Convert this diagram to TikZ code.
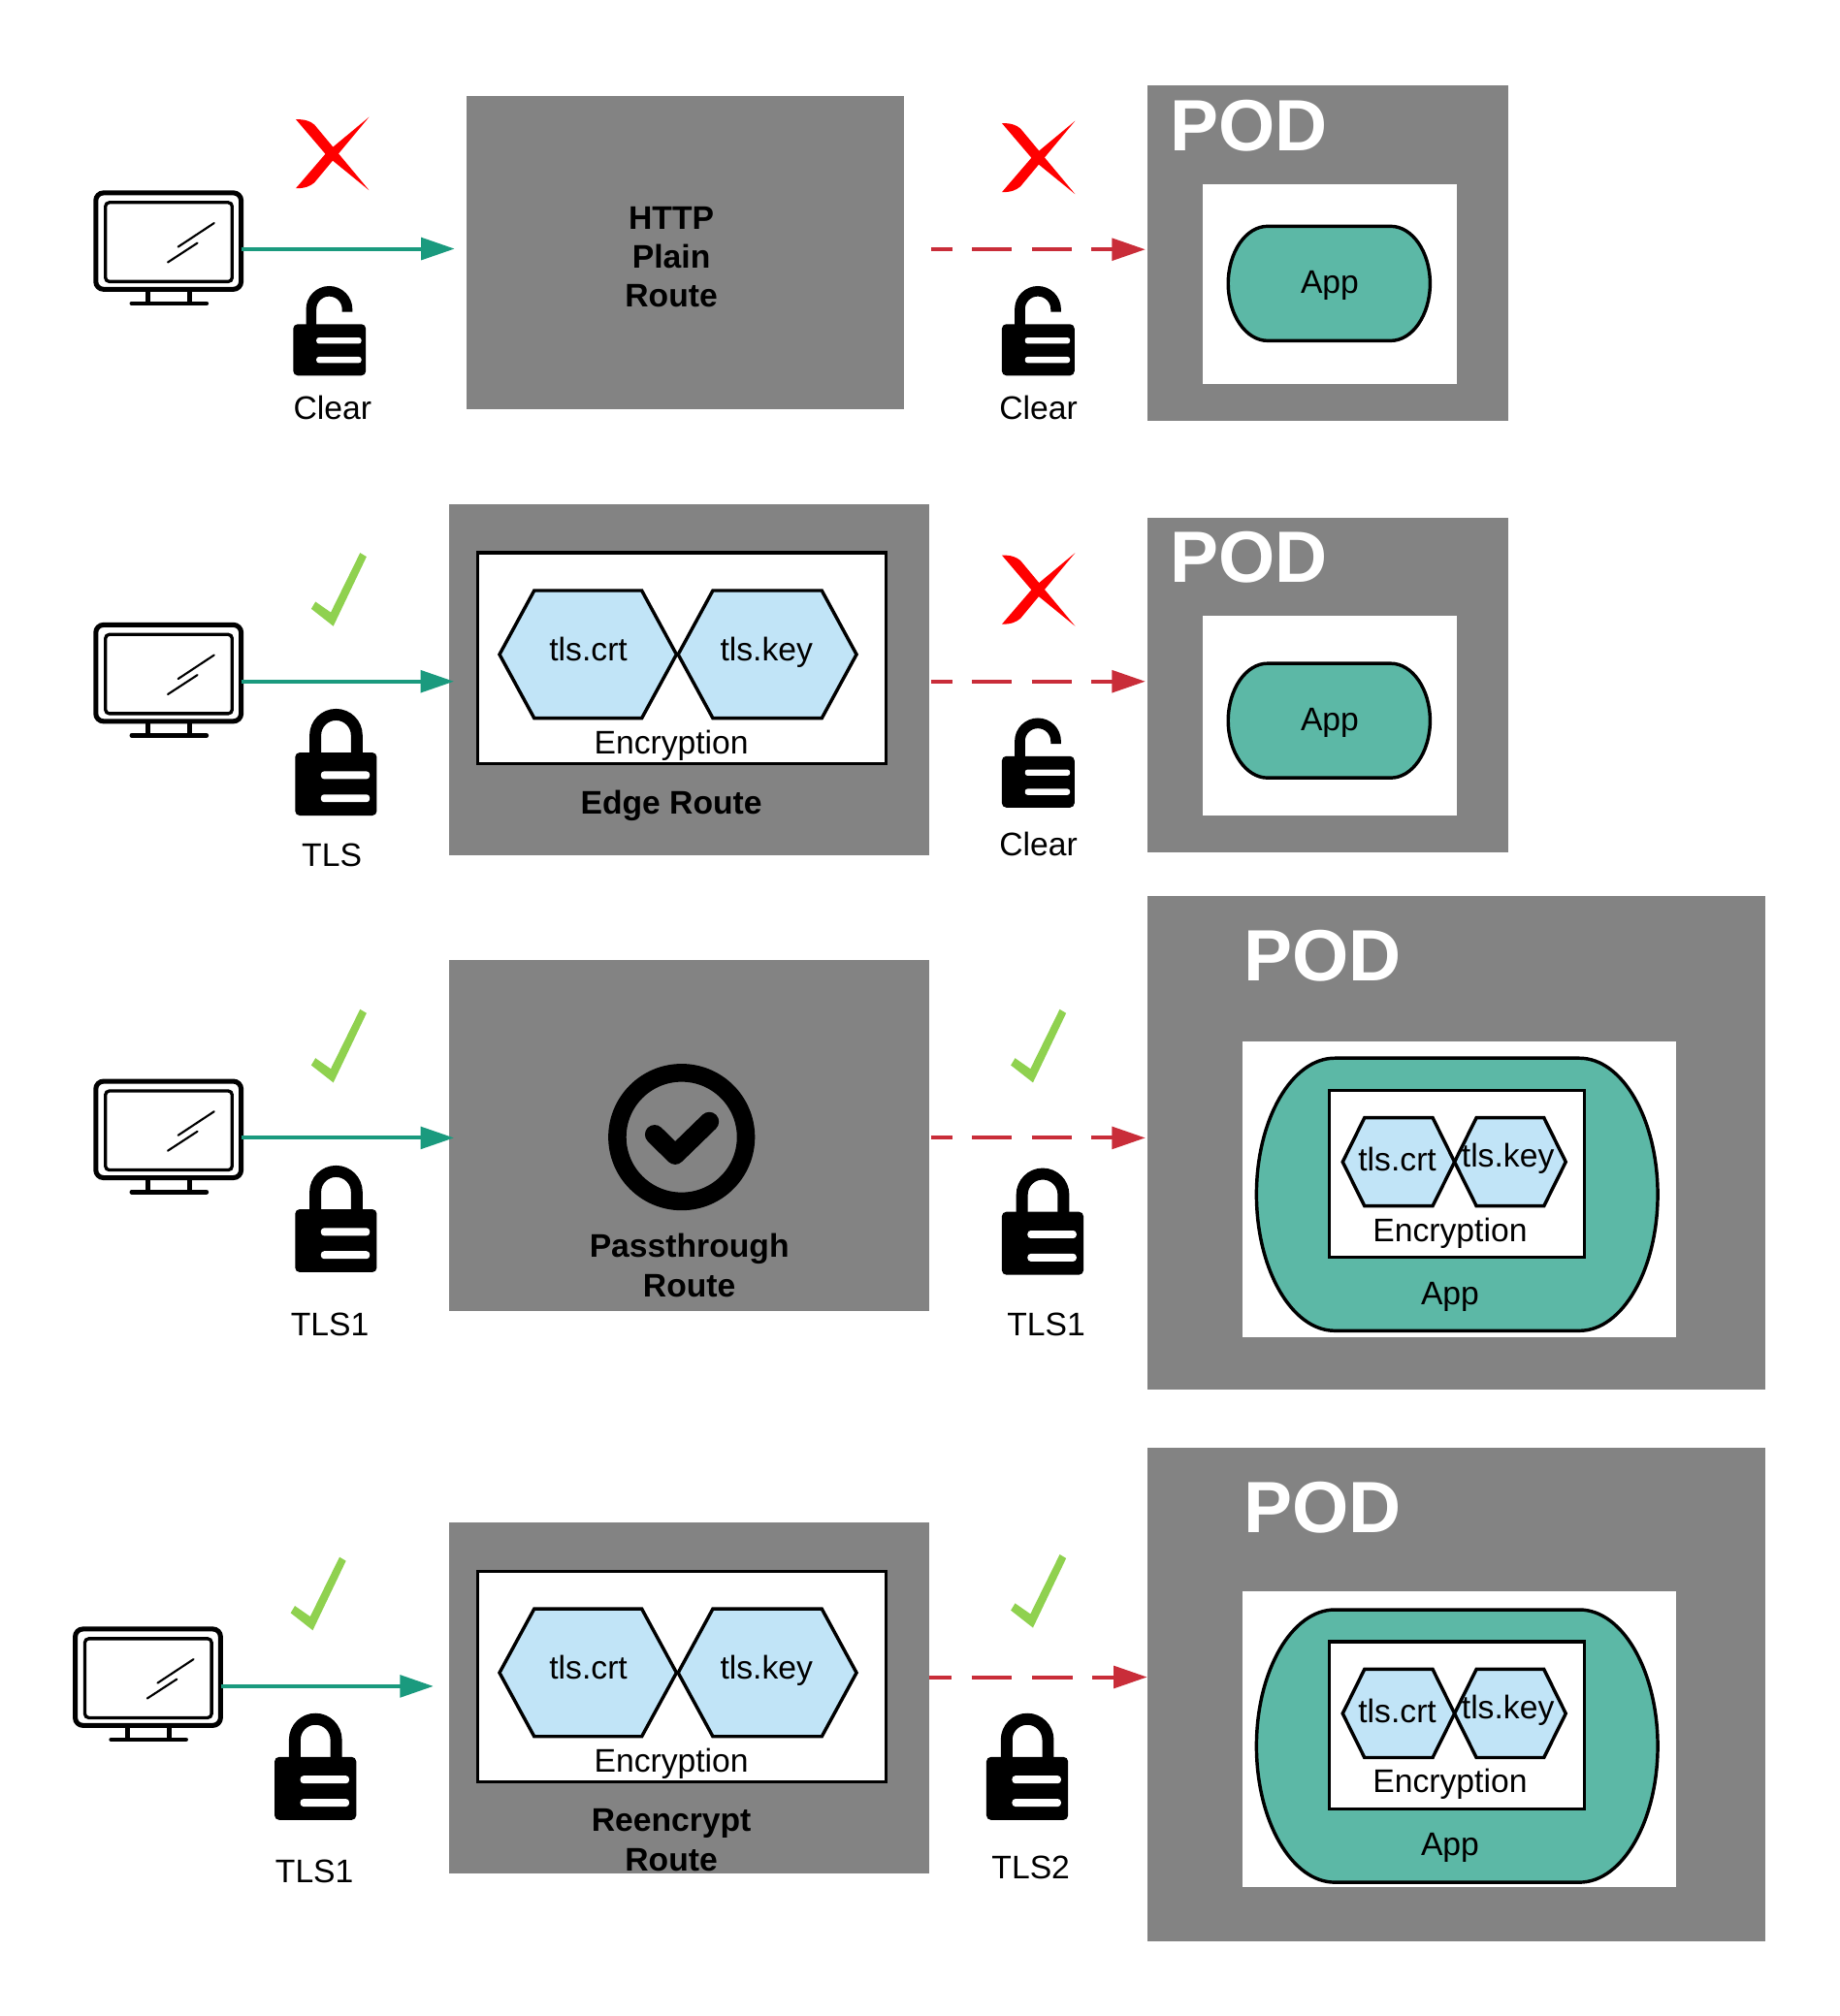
\documentclass[tikz,border=0pt]{standalone}
\usepackage{fontspec}
\setmainfont{Liberation Sans}
\usetikzlibrary{arrows.meta}
\definecolor{boxgray}{HTML}{838383}
\definecolor{apptl}{HTML}{5CB8A6}
\definecolor{hexblue}{HTML}{C1E4F7}
\definecolor{okgreen}{HTML}{8FD14F}
\definecolor{linkgreen}{HTML}{1A9A7E}
\definecolor{linkred}{HTML}{C92D39}
\tikzset{
  txt/.style={inner sep=0pt,outer sep=0pt,anchor=base,font=\fontsize{25.4}{30.5}\selectfont,align=center},
  btxt/.style={txt,font=\fontsize{25.4}{30.5}\selectfont\bfseries},
  podtxt/.style={inner sep=0pt,outer sep=0pt,anchor=base west,text=white,font=\fontsize{56.5}{60}\selectfont\bfseries},
  grayrect/.style={fill=boxgray,draw=none,inner sep=0pt,outer sep=0pt,anchor=north west},
  whiterect/.style={fill=white,draw=none,inner sep=0pt,outer sep=0pt,anchor=north west},
  encrect/.style={fill=white,draw=black,line width=2.6pt,inner sep=0pt,outer sep=0pt,anchor=north west},
  hexa/.style={fill=hexblue,draw=black,line width=2.6pt,line join=miter},
  appshape/.style={fill=apptl,draw=black,line width=2.6pt},
  clearlink/.style={draw=linkgreen,line width=3pt,-{Triangle[length=26pt,width=17pt]}},
  dashlink/.style={draw=linkred,line width=3pt,dash pattern=on 31pt off 15.3pt,dash phase=14.4pt,-{Triangle[length=26pt,width=17pt]}},
  monitor/.pic={
    \draw[line width=3.8pt,rounded corners=6pt] (2,2) rectangle (115,77);
    \draw[line width=2.5pt,rounded corners=3pt] (9.5,9.5) rectangle (108,71);
    \draw[line width=1.6pt,line cap=round] (66,44) -- (94,25.5) (58,56) -- (81,41);
    \draw[line width=3.6pt] (42.5,78) -- (42.5,88) (75,78) -- (75,88);
    \draw[line width=3.6pt,line cap=round] (30,88) -- (88,88);
  },
  lockopen/.pic={
    \fill[rounded corners=3.5pt] (0,29.6) rectangle (56.5,69.6);
    \draw[line width=8pt] (14,31) -- (14,18) arc[start angle=180,end angle=360,radius=14] -- (42,20);
    \fill[white,rounded corners=2pt] (18,40) rectangle (53,44.8) (18,55) rectangle (53,59.8);
  },
  lockclosed/.pic={
    \fill[rounded corners=3.5pt] (0,34) rectangle (63.5,83);
    \draw[line width=9pt] (15.7,35) -- (15.7,20.6) arc[start angle=180,end angle=360,radius=16.1] -- (47.9,35);
    \fill[white,rounded corners=2.5pt] (20,48.6) rectangle (58,54.6) (20,66.6) rectangle (58,72.6);
  },
  redx/.pic={
    \fill[red] (0,1.8) .. controls (7,1.8) and (11,3) .. (14.5,6) -- (57,57) -- (24.5,30.5) -- cycle;
    \fill[red] (0,55.5) .. controls (7,55.5) and (11,54) .. (14.5,51) -- (57,0) -- (24.5,27) -- cycle;
  },
  greencheck/.pic={
    \fill[okgreen] (38,0) -- (43,3) -- (17.2,57) -- (0,43.5) -- (3.3,38) -- (15.2,46.3) -- cycle;
  },
}
\newcommand{\rectnode}[6]{\node[#1,minimum width={(#5-#3)*1pt},minimum height={(#6-#4)*1pt}] (#2) at (#3,#4) {};}
% left tip, right tip, top, bottom, middle, inset of the flat edges
\newcommand{\hexpath}[6]{\draw[hexa] (#1,#5) -- (#1+#6,#3) -- (#2-#6,#3) -- (#2,#5) -- (#2-#6,#4) -- (#1+#6,#4) -- cycle;}
\newcommand{\appblob}[4]{%
  \draw[appshape] ({#1+0.195*(#2-#1)},#3)
   -- ({#2-0.195*(#2-#1)},#3)
   .. controls ({#2-0.195*(#2-#1)+0.107*(#2-#1)},#3) and (#2,{#3+0.225*(#4-#3)}) .. (#2,{0.5*(#3+#4)})
   .. controls (#2,{#4-0.225*(#4-#3)}) and ({#2-0.195*(#2-#1)+0.107*(#2-#1)},#4) .. ({#2-0.195*(#2-#1)},#4)
   -- ({#1+0.195*(#2-#1)},#4)
   .. controls ({#1+0.195*(#2-#1)-0.107*(#2-#1)},#4) and (#1,{#4-0.225*(#4-#3)}) .. (#1,{0.5*(#3+#4)})
   .. controls (#1,{#3+0.225*(#4-#3)}) and ({#1+0.195*(#2-#1)-0.107*(#2-#1)},#3) .. ({#1+0.195*(#2-#1)},#3) -- cycle;}
\begin{document}
\begin{tikzpicture}[x=1pt,y=-1pt]
\useasboundingbox (0,0) rectangle (1430,1568);
\fill[white] (0,0) rectangle (1430,1568);

% ---------- Row 1
\pic at (72.5,148) {monitor};
\pic at (230,91) {redx};
\pic at (228,222.5) {lockopen};
\node[txt] (clear1) at (258.5,326) {Clear};
\rectnode{grayrect}{route1}{363}{75}{703}{318}
\node[btxt] (route1t) at (522,239) {HTTP\\Plain\\Route};
\pic at (779,94) {redx};
\pic at (779,222.5) {lockopen};
\node[txt] (clear2) at (807.5,326) {Clear};
\rectnode{grayrect}{pod1}{892}{66}{1173}{327}
\node[podtxt] (pod1t) at (910,117) {POD};
\rectnode{whiterect}{white1}{935}{143}{1133}{299}
\appblob{955}{1112}{176}{265}
\node[txt] (app1) at (1034,228) {App};
\coordinate (m1) at (188,193.5);
\coordinate (e1) at (353.5,193.5);
\draw[clearlink] (m1) -- (e1);
\coordinate (s1) at (724,194);
\coordinate (d1) at (890.6,194);
\draw[dashlink] (s1) -- (d1);

% ---------- Row 2
\pic at (72.5,484) {monitor};
\pic at (242,430) {greencheck};
\pic at (229.5,551.3) {lockclosed};
\node[txt] (tls1) at (258,674) {TLS};
\rectnode{grayrect}{route2}{349}{392}{722.5}{665}
\rectnode{encrect}{enc2}{371.5}{430}{689}{594}
\hexpath{388.4}{526}{459.3}{558.6}{509}{27}
\hexpath{527.3}{666}{459.3}{558.6}{509}{27}
\node[txt] (crt2) at (457.5,514) {tls.crt};
\node[txt] (key2) at (596,514) {tls.key};
\node[txt] (enc2t) at (522,586.5) {Encryption};
\node[btxt] (route2t) at (522,633) {Edge Route};
\pic at (779,430) {redx};
\pic at (779,558.5) {lockopen};
\node[txt] (clear3) at (807.5,665.5) {Clear};
\rectnode{grayrect}{pod2}{892}{403}{1173}{663}
\node[podtxt] (pod2t) at (910,453) {POD};
\rectnode{whiterect}{white2}{935}{479}{1133}{634}
\appblob{955}{1112}{516}{605}
\node[txt] (app2) at (1034,568) {App};
\coordinate (m2) at (188,530);
\coordinate (e2) at (353,530);
\draw[clearlink] (m2) -- (e2);
\coordinate (s2) at (724,530);
\coordinate (d2) at (890.6,530);
\draw[dashlink] (s2) -- (d2);

% ---------- Row 3
\pic at (72.5,839) {monitor};
\pic at (242,785) {greencheck};
\pic at (229.5,906.5) {lockclosed};
\node[txt] (tls2) at (256.5,1039) {TLS1};
\rectnode{grayrect}{route3}{349}{747}{722.5}{1020}
\draw[line width=14pt] (530,884.4) circle[radius=50];
\draw[line width=15pt,line cap=round,line join=round] (509,882.4) -- (525,898.2) -- (551.5,872.4);
\node[btxt] (route3t) at (536,1008.5) {Passthrough\\Route};
\pic at (786,785) {greencheck};
\pic at (779,908.5) {lockclosed};
\node[txt] (tls3) at (813.5,1039) {TLS1};
\rectnode{grayrect}{pod3}{892}{697}{1373}{1081}
\node[podtxt] (pod3t) at (967,763) {POD};
\rectnode{whiterect}{white3}{966}{810}{1303}{1040}
\appblob{977}{1289}{823}{1035}
\rectnode{encrect}{enc3}{1033.5}{848}{1232}{978}
\hexpath{1044}{1131}{869.3}{938}{903.7}{17}
\hexpath{1131}{1217.5}{869.3}{938}{903.7}{17}
\node[txt] (crt3) at (1086.5,911) {tls.crt};
\node[txt] (key3) at (1172.5,908) {tls.key};
\node[txt] (enc3t) at (1127.5,966) {Encryption};
\node[txt] (app3) at (1127.5,1015) {App};
\coordinate (m3) at (188,885);
\coordinate (e3) at (353,885);
\draw[clearlink] (m3) -- (e3);
\coordinate (s3) at (724,885);
\coordinate (d3) at (890.6,885);
\draw[dashlink] (s3) -- (d3);

% ---------- Row 4
\pic at (56.5,1265) {monitor};
\pic at (226,1211) {greencheck};
\pic at (213.5,1332.5) {lockclosed};
\node[txt] (tls4) at (244.5,1464) {TLS1};
\rectnode{grayrect}{route4}{349}{1184}{722.5}{1457}
\rectnode{encrect}{enc4}{371.5}{1222}{689}{1386}
\hexpath{388.4}{526}{1251.3}{1350.6}{1301}{27}
\hexpath{527.3}{666}{1251.3}{1350.6}{1301}{27}
\node[txt] (crt4) at (457.5,1306) {tls.crt};
\node[txt] (key4) at (596,1306) {tls.key};
\node[txt] (enc4t) at (522,1378) {Encryption};
\node[btxt] (route4t) at (522,1455) {Reencrypt\\Route};
\pic at (786,1209) {greencheck};
\pic at (767,1332.5) {lockclosed};
\node[txt] (tls5) at (801.5,1461) {TLS2};
\rectnode{grayrect}{pod4}{892}{1126}{1373}{1510}
\node[podtxt] (pod4t) at (967,1192) {POD};
\rectnode{whiterect}{white4}{966}{1238}{1303}{1468}
\appblob{977}{1289}{1252}{1464}
\rectnode{encrect}{enc5}{1033.5}{1277}{1232}{1407}
\hexpath{1044}{1131}{1298.3}{1367}{1332.7}{17}
\hexpath{1131}{1217.5}{1298.3}{1367}{1332.7}{17}
\node[txt] (crt5) at (1086.5,1340) {tls.crt};
\node[txt] (key5) at (1172.5,1337) {tls.key};
\node[txt] (enc5t) at (1127.5,1394) {Encryption};
\node[txt] (app4) at (1127.5,1443) {App};
\coordinate (m4) at (172,1311.5);
\coordinate (e4) at (337,1311.5);
\draw[clearlink] (m4) -- (e4);
\coordinate (s4) at (722.5,1304.4);
\coordinate (d4) at (892,1304.4);
\draw[dashlink,dash pattern=on 31.5pt off 15.5pt,dash phase=14pt] (s4) -- (d4);
\end{tikzpicture}
\end{document}
